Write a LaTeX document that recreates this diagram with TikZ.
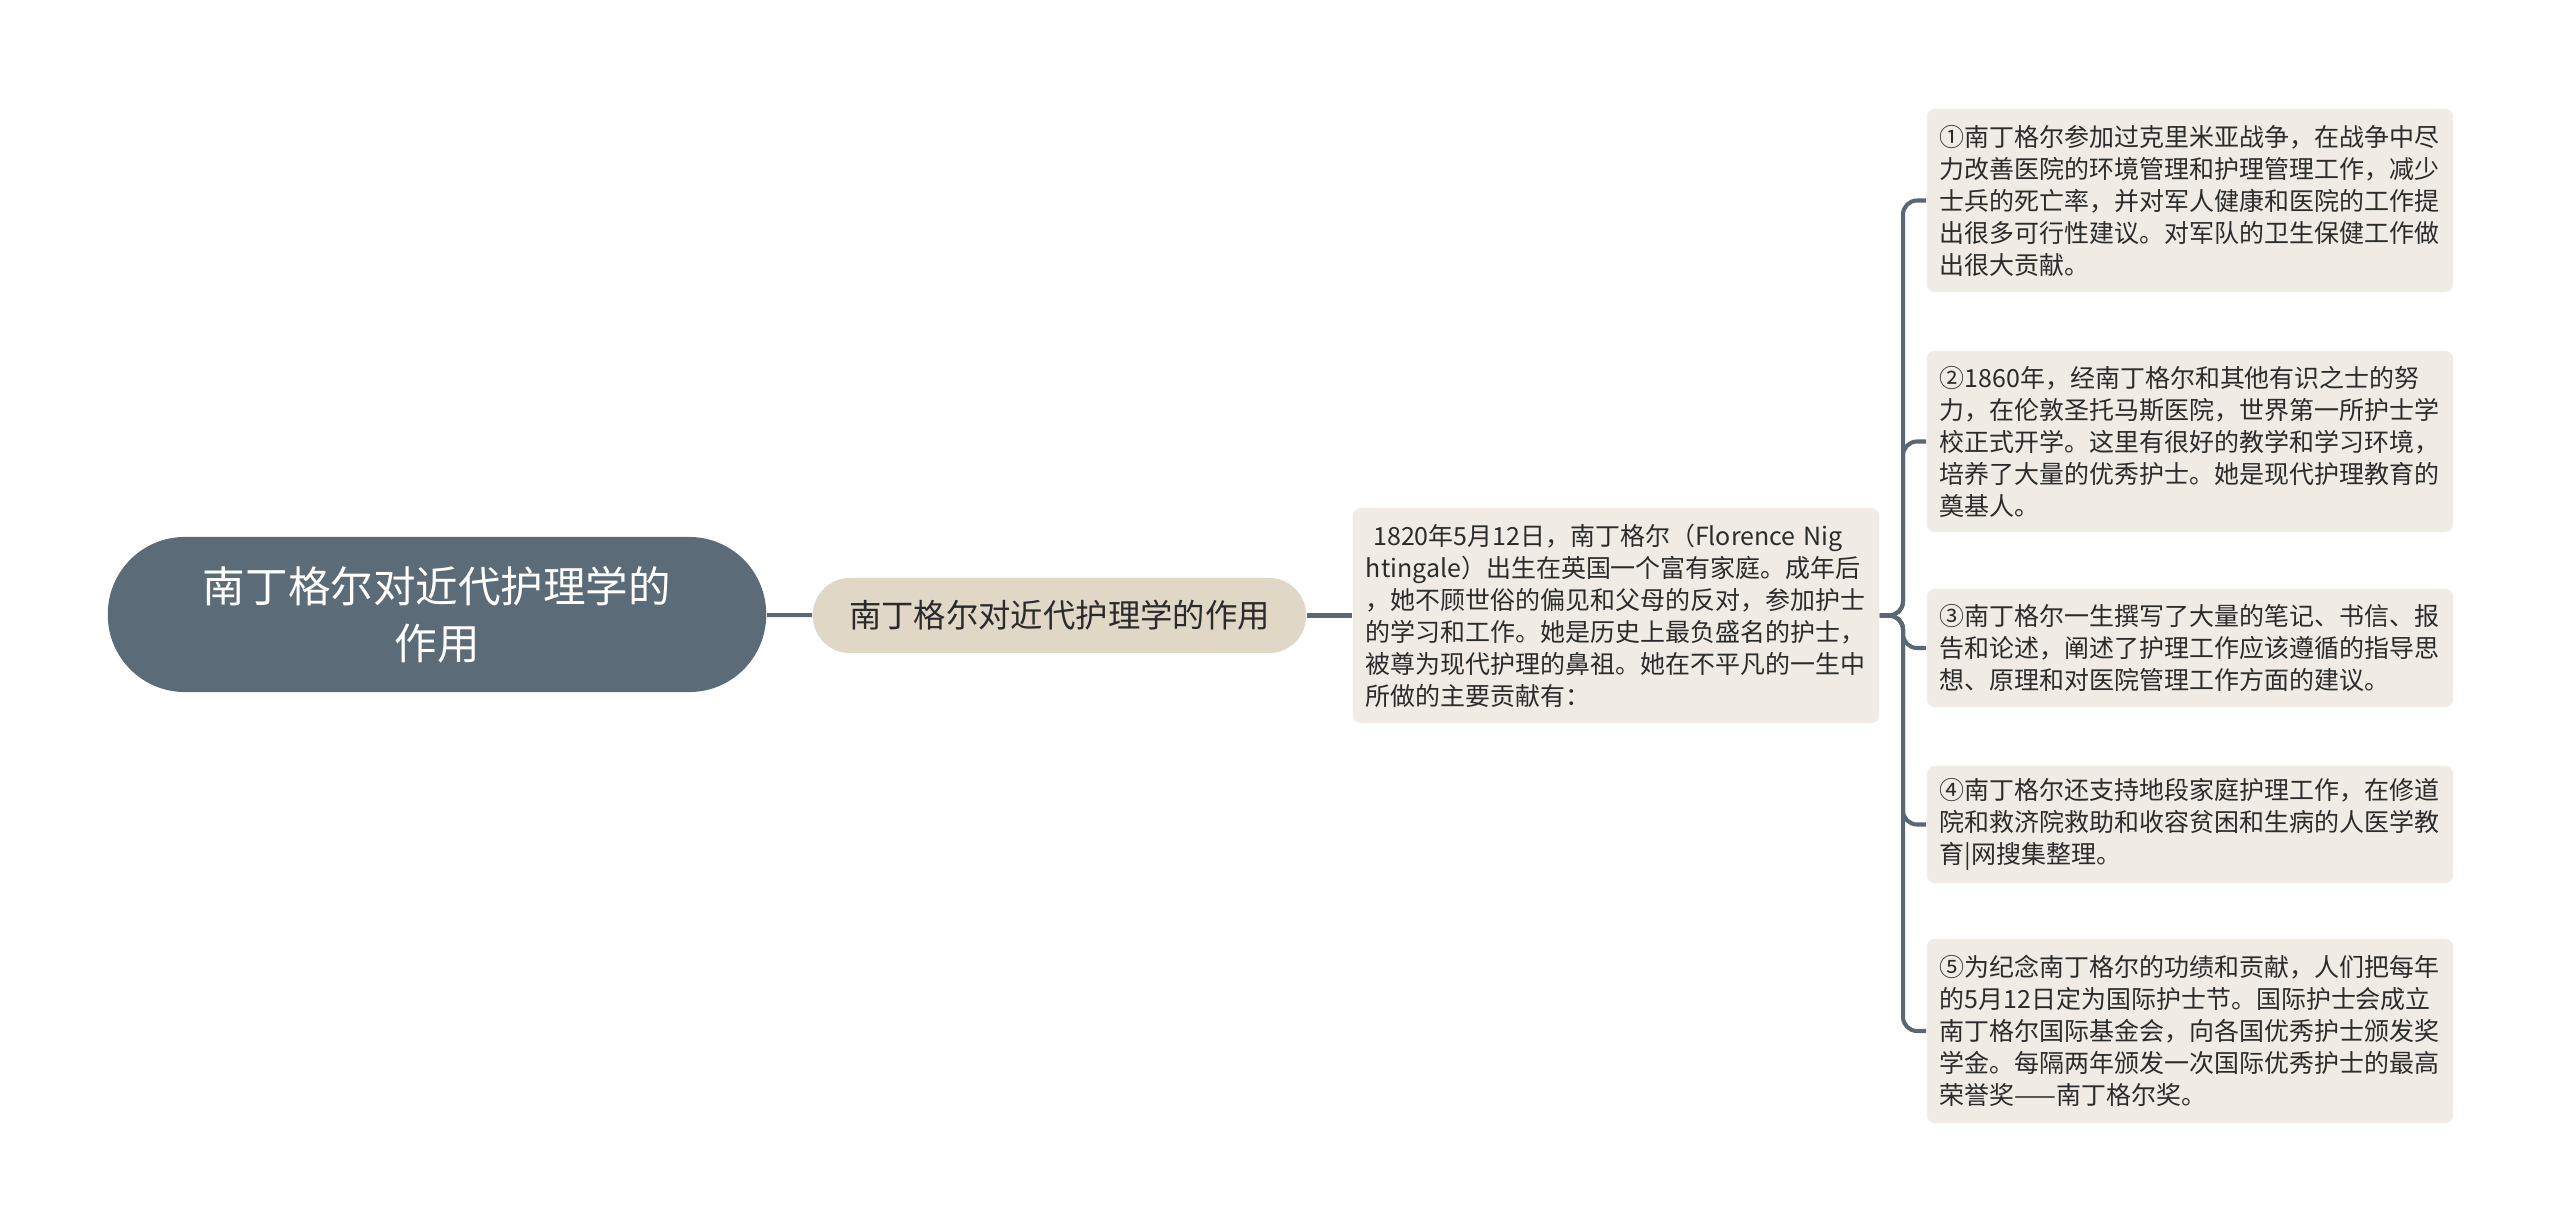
\documentclass[tikz,border=0pt]{standalone}
\usepackage{fontspec}
\setmainfont{Noto Sans CJK SC}
\definecolor{rootfill}{HTML}{5B6B77}
\definecolor{subfill}{HTML}{E0D7C7}
\definecolor{notefill}{HTML}{F0ECE5}
\definecolor{linkgray}{HTML}{596873}
\definecolor{textgray}{HTML}{2B2B2B}
\tikzset{%
  link/.style={draw=linkgray,line width=1.15pt},
  rootbox/.style={fill=rootfill,text=white,rounded corners=0.77cm,
    minimum width=6.58cm,minimum height=1.55cm,align=center,
    font=\fontsize{12.1}{16.2}\selectfont},
  subbox/.style={fill=subfill,text=textgray,rounded corners=0.37cm,
    minimum width=4.93cm,minimum height=0.75cm,
    font=\fontsize{9.2}{11}\selectfont},
  notebox/.style={fill=notefill,text=textgray,rounded corners=0.08cm,
    text width=5.0cm,inner xsep=0.13cm,align=left,
    font=\fontsize{7.1}{9.1}\selectfont},
}
\begin{document}
\begin{tikzpicture}[x=0.01cm,y=-0.01cm]
  \fill[white] (0,0) rectangle (2560,1231);
  \useasboundingbox (0,0) rectangle (2560,1231);
  % centre and first level
  \node[rootbox] (root) at (437,614.5) {南丁格尔对近代护理学的\\作用};
  \node[subbox] (sub) at (1059.5,615.5) {南丁格尔对近代护理学的作用};
  \node[notebox,minimum height=2.15cm] (intro) at (1616,615.5) {%
    \hspace{0.3em}1820年5月12日，南丁格尔（Florence Nig\\
    htingale）出生在英国一个富有家庭。成年后\\
    ，她不顾世俗的偏见和父母的反对，参加护士\\
    的学习和工作。她是历史上最负盛名的护士，\\
    被尊为现代护理的鼻祖。她在不平凡的一生中\\
    所做的主要贡献有：};
  % contributions
  \node[notebox,minimum height=1.83cm] (note1) at (2190,200.5) {%
    ①南丁格尔参加过克里米亚战争，在战争中尽\\
    力改善医院的环境管理和护理管理工作，减少\\
    士兵的死亡率，并对军人健康和医院的工作提\\
    出很多可行性建议。对军队的卫生保健工作做\\
    出很大贡献。};
  \node[notebox,minimum height=1.81cm] (note2) at (2190,441.5) {%
    ②1860年，经南丁格尔和其他有识之士的努\\
    力，在伦敦圣托马斯医院，世界第一所护士学\\
    校正式开学。这里有很好的教学和学习环境，\\
    培养了大量的优秀护士。她是现代护理教育的\\
    奠基人。};
  \node[notebox,minimum height=1.18cm] (note3) at (2190,648) {%
    ③南丁格尔一生撰写了大量的笔记、书信、报\\
    告和论述，阐述了护理工作应该遵循的指导思\\
    想、原理和对医院管理工作方面的建议。};
  \node[notebox,minimum height=1.17cm] (note4) at (2190,824.5) {%
    ④南丁格尔还支持地段家庭护理工作，在修道\\
    院和救济院救助和收容贫困和生病的人医学教\\
    育|网搜集整理。};
  \node[notebox,minimum height=1.84cm] (note5) at (2190,1031) {%
    ⑤为纪念南丁格尔的功绩和贡献，人们把每年\\
    的5月12日定为国际护士节。国际护士会成立\\
    南丁格尔国际基金会，向各国优秀护士颁发奖\\
    学金。每隔两年颁发一次国际优秀护士的最高\\
    荣誉奖——南丁格尔奖。};
  % connectors
  \draw[link] (root) -- (sub);
  \draw[link] (sub) -- (intro);
  \coordinate (fork) at (1903,615.5);
  \foreach \i in {1,...,5}
    \draw[link,rounded corners=0.14cm] (intro.east) -- (fork) |- (note\i.west);
\end{tikzpicture}
\end{document}
